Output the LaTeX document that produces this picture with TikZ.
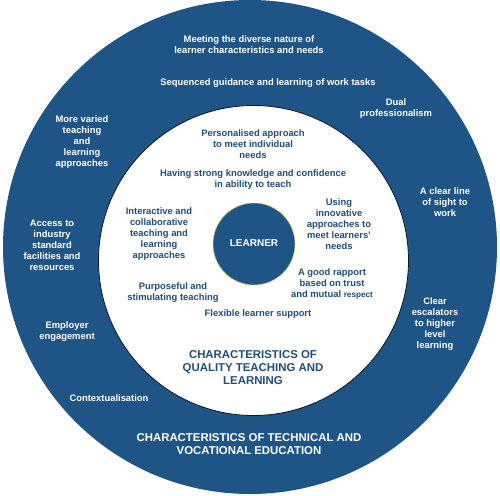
\documentclass[tikz,border=0pt]{standalone}
\usepackage{fontspec}
\setmainfont{Liberation Sans}
\definecolor{ringblue}{HTML}{1F5487}
\definecolor{textblue}{HTML}{1F4E80}
\definecolor{rimline}{HTML}{C9CC55}
\begin{document}
\begin{tikzpicture}[x=1pt,y=-1pt,
  outtxt/.style={text=white,font=\bfseries\fontsize{9.4}{11}\selectfont,align=center,inner sep=0pt},
  intxt/.style={text=textblue,font=\bfseries\fontsize{9.4}{11}\selectfont,align=center,inner sep=0pt},
  bigout/.style={text=white,font=\bfseries\fontsize{11.4}{13}\selectfont,align=center,inner sep=0pt},
  bigin/.style={text=textblue,font=\bfseries\fontsize{11.4}{13}\selectfont,align=center,inner sep=0pt}]
\useasboundingbox (0,0) rectangle (500,495);
\fill[white] (0,0) rectangle (500,495);
\fill[ringblue] (250,247) circle (247);
\filldraw[fill=white,draw=black!75!ringblue,line width=0.8pt] (253.5,260.5) circle (155);
\node[circle,fill=ringblue,draw=rimline,line width=0.6pt,minimum size=82pt,inner sep=0pt] (learnerc) at (254,244) {};
\node[text=white,font=\bfseries\fontsize{10}{11}\selectfont,inner sep=0pt] (learner) at (254,243) {LEARNER};
% outer ring
\node[outtxt] (o1) at (249,44.5) {Meeting the diverse nature of\\learner characteristics and needs};
\node[outtxt] (o2) at (268,83) {Sequenced guidance and learning of work tasks};
\node[outtxt] (o3) at (396,109) {Dual\\professionalism};
\node[outtxt] (o4) at (82,142.5) {More varied\\teaching\\and\\learning\\approaches};
\node[outtxt] (o5) at (445,202) {A clear line\\of sight to\\work};
\node[outtxt] (o6) at (52,245.5) {Access to\\industry\\standard\\facilities and\\resources};
\node[outtxt] (o7) at (67,331.5) {Employer\\engagement};
\node[outtxt] (o8) at (109,398) {Contextualisation};
\node[outtxt] (o9) at (435,324) {Clear\\escalators\\to higher\\level\\learning};
\node[bigout] (o10) at (249,444.5) {CHARACTERISTICS OF TECHNICAL AND\\VOCATIONAL EDUCATION};
% inner
\node[intxt] (i1) at (253,144) {Personalised approach\\to meet individual\\needs};
\node[intxt] (i2) at (253,179.5) {Having strong knowledge and confidence\\in ability to teach};
\node[intxt] (i3) at (339,224) {Using\\innovative\\approaches to\\meet learners'\\needs};
\node[intxt] (i4) at (159,234) {Interactive and\\collaborative\\teaching and\\learning\\approaches};
\node[intxt] (i5) at (332,284) {A good rapport\\based on trust\\and mutual {\fontsize{8.2}{11}\selectfont respect}};
\node[intxt] (i6) at (173,292.5) {Purposeful and\\stimulating teaching};
\node[intxt] (i7) at (258,314) {Flexible learner support};
\node[bigin] (i8) at (253,368) {CHARACTERISTICS OF\\QUALITY TEACHING AND\\LEARNING};
\end{tikzpicture}
\end{document}
